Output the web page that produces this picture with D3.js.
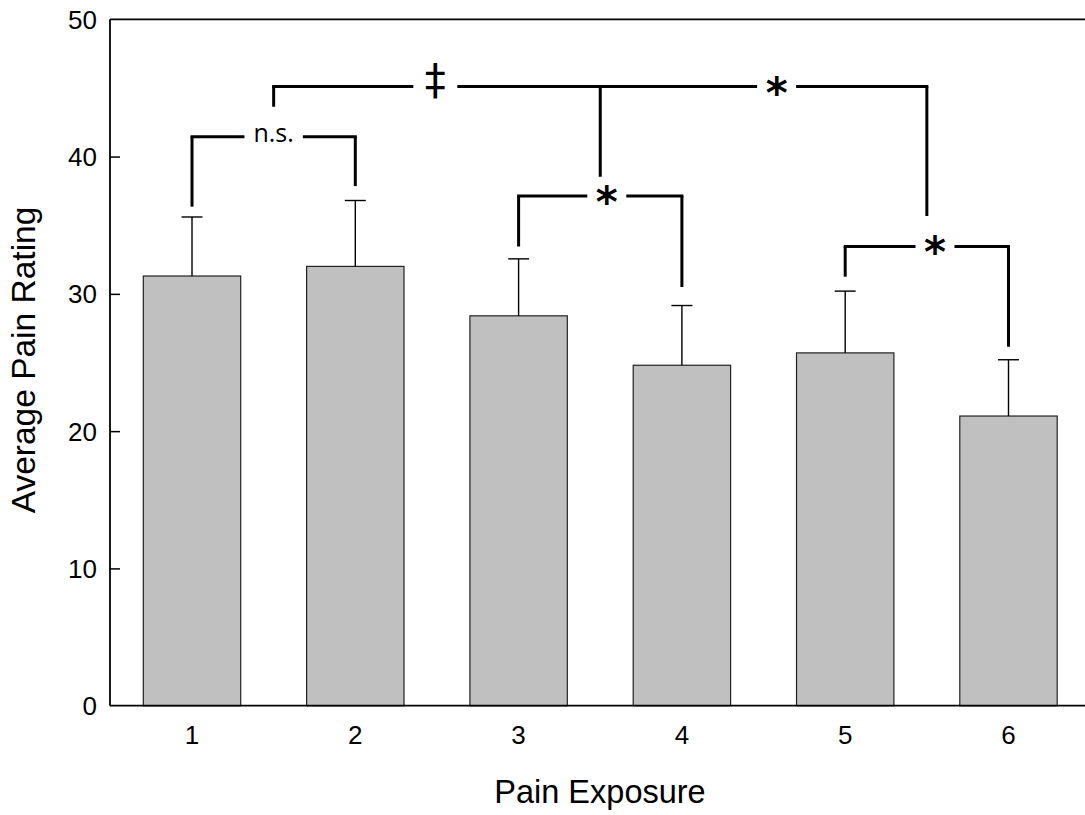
<!DOCTYPE html>
<html>
<head>
<meta charset="utf-8">
<script src="https://cdn.jsdelivr.net/npm/d3@7"></script>
<style>
  body { margin: 0; background: #fff; }
  svg { display: block; }
</style>
</head>
<body>
<svg id="chart" width="1085" height="815"></svg>
<script>
const exposures = ["1", "2", "3", "4", "5", "6"];
const meanRating = [31.3, 32.0, 28.4, 24.8, 25.7, 21.1];
const errRating = [4.3, 4.8, 4.15, 4.35, 4.5, 4.1];
const yTicks = [10, 20, 30, 40];

// pairwise comparisons: legs are exposure numbers, legEnds in rating units
const pairBrackets = [
  { legs: [1, 2], legEnds: [36.35, 37.85], level: 41.45, labels: [{ text: "n.s.", at: 1.5 }] },
  { legs: [3, 4], legEnds: [33.45, 30.5], level: 37.13, labels: [{ text: "*", at: 3.54 }] },
  { legs: [5, 6], legEnds: [31.25, 26.15], level: 33.45, labels: [{ text: "*", at: 5.55 }] },
  { legs: [1.5, 3.5, 5.5], legEnds: [43.63, 38.53, 35.67], level: 45.1,
    labels: [{ text: "\u2021", at: 2.49 }, { text: "*", at: 4.58 }] },
];

const WIDTH = 1085;
const plotLeft = 110;
const plotTop = 19.3;
const plotBottom = 705.7;

const labelStyle = {
  "n.s.": { font: "'Open Sans', sans-serif", size: 25, weight: 400, dy: 5, pad: 10.5 },
  "*": { font: "'DejaVu Sans', sans-serif", size: 42, weight: 700, dy: 21, pad: 10 },
  "\u2021": { font: "'DejaVu Sans', sans-serif", size: 42, weight: 400, dy: 7, pad: 13 },
};

const svg = d3.select("#chart");

const x = d3.scaleBand()
  .domain(exposures)
  .range([plotLeft, 1090.5])
  .paddingInner(0.4036)
  .paddingOuter(0.204);

const y = d3.scaleLinear().domain([0, 50]).range([plotBottom, plotTop]);

// fractional exposure position -> pixel
const catX = (v) => x(exposures[0]) + x.bandwidth() / 2 + (v - 1) * x.step();

const rows = exposures.map((e, i) => ({ e, mean: meanRating[i], err: errRating[i] }));

// bars
svg.append("g")
  .selectAll("rect.bar")
  .data(rows)
  .join("rect")
  .attr("class", "bar")
  .attr("x", (d) => x(d.e))
  .attr("y", (d) => y(d.mean))
  .attr("width", x.bandwidth())
  .attr("height", (d) => y(0) - y(d.mean))
  .attr("fill", "#c0c0c0")
  .attr("stroke", "#222")
  .attr("stroke-width", 1.2);

// error bars (upper only)
const errG = svg.append("g").attr("stroke", "#000").attr("stroke-width", 1.4);
errG.selectAll("line.err")
  .data(rows)
  .join("line")
  .attr("class", "err")
  .attr("x1", (d) => x(d.e) + x.bandwidth() / 2)
  .attr("x2", (d) => x(d.e) + x.bandwidth() / 2)
  .attr("y1", (d) => y(d.mean))
  .attr("y2", (d) => y(d.mean + d.err));
errG.selectAll("line.cap")
  .data(rows)
  .join("line")
  .attr("class", "cap")
  .attr("x1", (d) => x(d.e) + x.bandwidth() / 2 - 10.5)
  .attr("x2", (d) => x(d.e) + x.bandwidth() / 2 + 10.5)
  .attr("y1", (d) => y(d.mean + d.err))
  .attr("y2", (d) => y(d.mean + d.err));

// axes
const yAxis = d3.axisLeft(y).tickValues(yTicks).tickSize(-10).tickFormat("");
const yAxisG = svg.append("g").attr("transform", `translate(${plotLeft},0)`).call(yAxis);
yAxisG.select(".domain").remove();
yAxisG.selectAll(".tick line").attr("stroke", "#000").attr("stroke-width", 1.5);

svg.append("g")
  .selectAll("text.ytick")
  .data([0, 10, 20, 30, 40, 50])
  .join("text")
  .attr("class", "ytick")
  .attr("x", 97)
  .attr("y", (d) => y(d))
  .attr("dy", "0.36em")
  .attr("text-anchor", "end")
  .attr("font-family", "Arial, 'Liberation Sans', sans-serif")
  .attr("font-size", 26)
  .attr("fill", "#000")
  .text((d) => d);

svg.append("g")
  .selectAll("text.xtick")
  .data(exposures)
  .join("text")
  .attr("class", "xtick")
  .attr("x", (d) => x(d) + x.bandwidth() / 2)
  .attr("y", 744)
  .attr("text-anchor", "middle")
  .attr("font-family", "Arial, 'Liberation Sans', sans-serif")
  .attr("font-size", 26)
  .attr("fill", "#000")
  .text((d) => d);

const frame = svg.append("g").attr("stroke", "#000").attr("stroke-width", 1.8).attr("fill", "none");
frame.append("line").attr("x1", plotLeft).attr("x2", plotLeft).attr("y1", y(50)).attr("y2", y(0));
frame.append("line").attr("x1", plotLeft).attr("x2", WIDTH).attr("y1", y(0)).attr("y2", y(0));
frame.append("line").attr("x1", plotLeft).attr("x2", WIDTH).attr("y1", y(50)).attr("y2", y(50));

// axis titles
svg.append("text")
  .attr("x", 600)
  .attr("y", 803)
  .attr("text-anchor", "middle")
  .attr("font-family", "Arial, 'Liberation Sans', sans-serif")
  .attr("font-size", 32.5)
  .text("Pain Exposure");

svg.append("text")
  .attr("transform", "translate(35,360) rotate(-90)")
  .attr("text-anchor", "middle")
  .attr("font-family", "Arial, 'Liberation Sans', sans-serif")
  .attr("font-size", 33.5)
  .text("Average Pain Rating");

// significance brackets
const bracketG = svg.append("g");
pairBrackets.forEach((b) => {
  const level = y(b.level);
  const gaps = b.labels.map((lab) => {
    const st = labelStyle[lab.text];
    const t = bracketG.append("text")
      .attr("x", catX(lab.at))
      .attr("y", level + st.dy)
      .attr("text-anchor", "middle")
      .attr("font-family", st.font)
      .attr("font-size", st.size)
      .attr("font-weight", st.weight)
      .attr("fill", "#000")
      .text(lab.text);
    const w = t.node().getBBox().width;
    return [catX(lab.at) - w / 2 - st.pad, catX(lab.at) + w / 2 + st.pad];
  });

  let start = catX(b.legs[0]);
  const stop = catX(b.legs[b.legs.length - 1]);
  const segs = [];
  gaps.forEach(([g0, g1]) => {
    segs.push([start, g0]);
    start = g1;
  });
  segs.push([start, stop]);

  bracketG.selectAll(null)
    .data(segs)
    .join("line")
    .attr("x1", (s) => s[0])
    .attr("x2", (s) => s[1])
    .attr("y1", level)
    .attr("y2", level)
    .attr("stroke", "#000")
    .attr("stroke-width", 3)
    .attr("stroke-linecap", "square");

  bracketG.selectAll(null)
    .data(b.legs.map((leg, i) => ({ leg, end: b.legEnds[i] })))
    .join("line")
    .attr("x1", (d) => catX(d.leg))
    .attr("x2", (d) => catX(d.leg))
    .attr("y1", level)
    .attr("y2", (d) => y(d.end))
    .attr("stroke", "#000")
    .attr("stroke-width", 3);
});
</script>
</body>
</html>
